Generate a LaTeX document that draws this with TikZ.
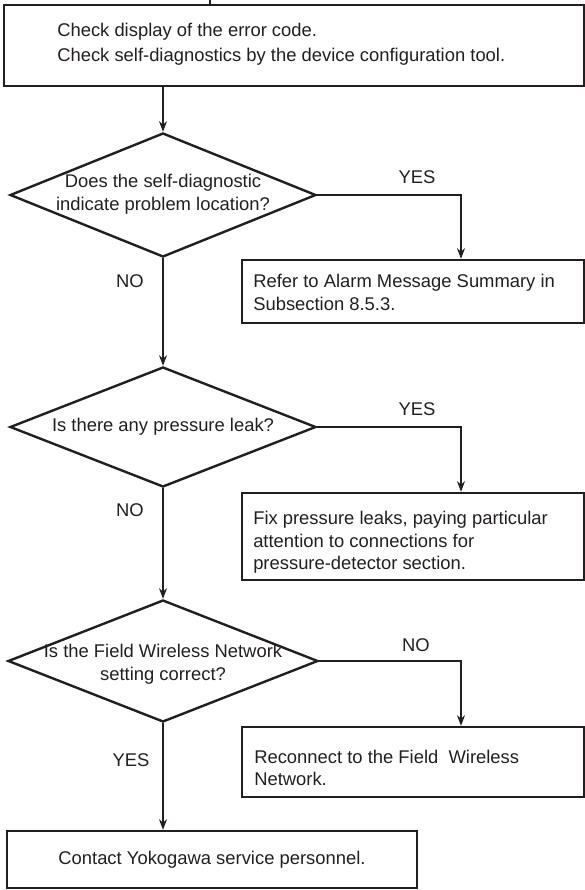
\documentclass[tikz,border=0pt]{standalone}
\usepackage{fontspec}
\setmainfont{Liberation Sans}
\usetikzlibrary{arrows.meta,shapes.geometric}
\definecolor{ink}{HTML}{231F20}
\begin{document}
\begin{tikzpicture}[x=0.75pt,y=-0.75pt,
  txt/.style={font=\fontsize{13.8}{17}\selectfont, text=ink, inner sep=0pt},
  box/.style={draw=ink, line width=1.8pt, rectangle, inner sep=0pt},
  dia/.style={draw=ink, line width=1.8pt, diamond, inner sep=0pt},
  conn/.style={draw=ink, line width=1pt},
  arr/.style={conn, -{Stealth[length=8pt,width=6pt]}}]
\useasboundingbox (0,0) rectangle (585,890);
% boxes
\node[box, minimum width=435pt, minimum height=60.75pt] (b1) at (294,45.5) {};
\node[txt, anchor=west, align=left, font=\fontsize{13.8}{18.75}\selectfont] (t1) at (57,44.5)
  {Check display of the error code.\\Check self-diagnostics by the device configuration tool.};
\node[box, minimum width=256.5pt, minimum height=47.25pt] (b2) at (413,291.5) {};
\node[txt, anchor=west, align=left] (t2) at (253,292.5)
  {Refer to Alarm Message Summary in\\Subsection 8.5.3.};
\node[box, minimum width=256.5pt, minimum height=65.25pt] (b3) at (413,536.5) {};
\node[txt, anchor=west, align=left] (t3) at (253,542.5)
  {Fix pressure leaks, paying particular\\attention to connections for\\pressure-detector section.};
\node[box, minimum width=256.5pt, minimum height=52.5pt] (b4) at (413,762) {};
\node[txt, anchor=west, align=left] (t4) at (254,768)
  {Reconnect to the Field\ \ Wireless\\Network.};
\node[box, minimum width=307.5pt, minimum height=42.75pt] (b5) at (212,859.5) {};
\node[txt] (t5) at (212,860) {Contact Yokogawa service personnel.};
% diamonds
\node[dia, minimum width=229.5pt, minimum height=93pt] (d1) at (163,195) {};
\node[txt, align=center] (dt1) at (163,194) {Does the self-diagnostic\\indicate problem location?};
\node[dia, minimum width=229.5pt, minimum height=90pt] (d2) at (163,427) {};
\node[txt] (dt2) at (163,427) {Is there any pressure leak?};
\node[dia, minimum width=232.5pt, minimum height=91.5pt] (d3) at (163,661) {};
\node[txt, align=center] (dt3) at (163,664) {Is the Field Wireless Network\\setting correct?};
% labels
\node[txt] (y1) at (417,177) {YES};
\node[txt] (n1) at (130,281) {NO};
\node[txt] (y2) at (417,409) {YES};
\node[txt] (n2) at (130,510) {NO};
\node[txt] (n3) at (416,645) {NO};
\node[txt] (y3) at (131,760) {YES};
% connectors
\coordinate (topin) at (210,0);
\draw[conn] (topin) -- (topin |- b1.north);
\draw[arr] (d1.north |- b1.south) -- (d1.north);
\draw[arr] (d1.east) -| ([xshift=36pt]b2.north);
\draw[arr] (d1.south) -- (d2.north);
\draw[arr] (d2.east) -| ([xshift=36pt]b3.north);
\draw[arr] (d2.south) -- (d3.north);
\draw[arr] (d3.east) -| ([xshift=36pt]b4.north);
\draw[arr] (d3.south) -- (d3.south |- b5.north);
\end{tikzpicture}
\end{document}
